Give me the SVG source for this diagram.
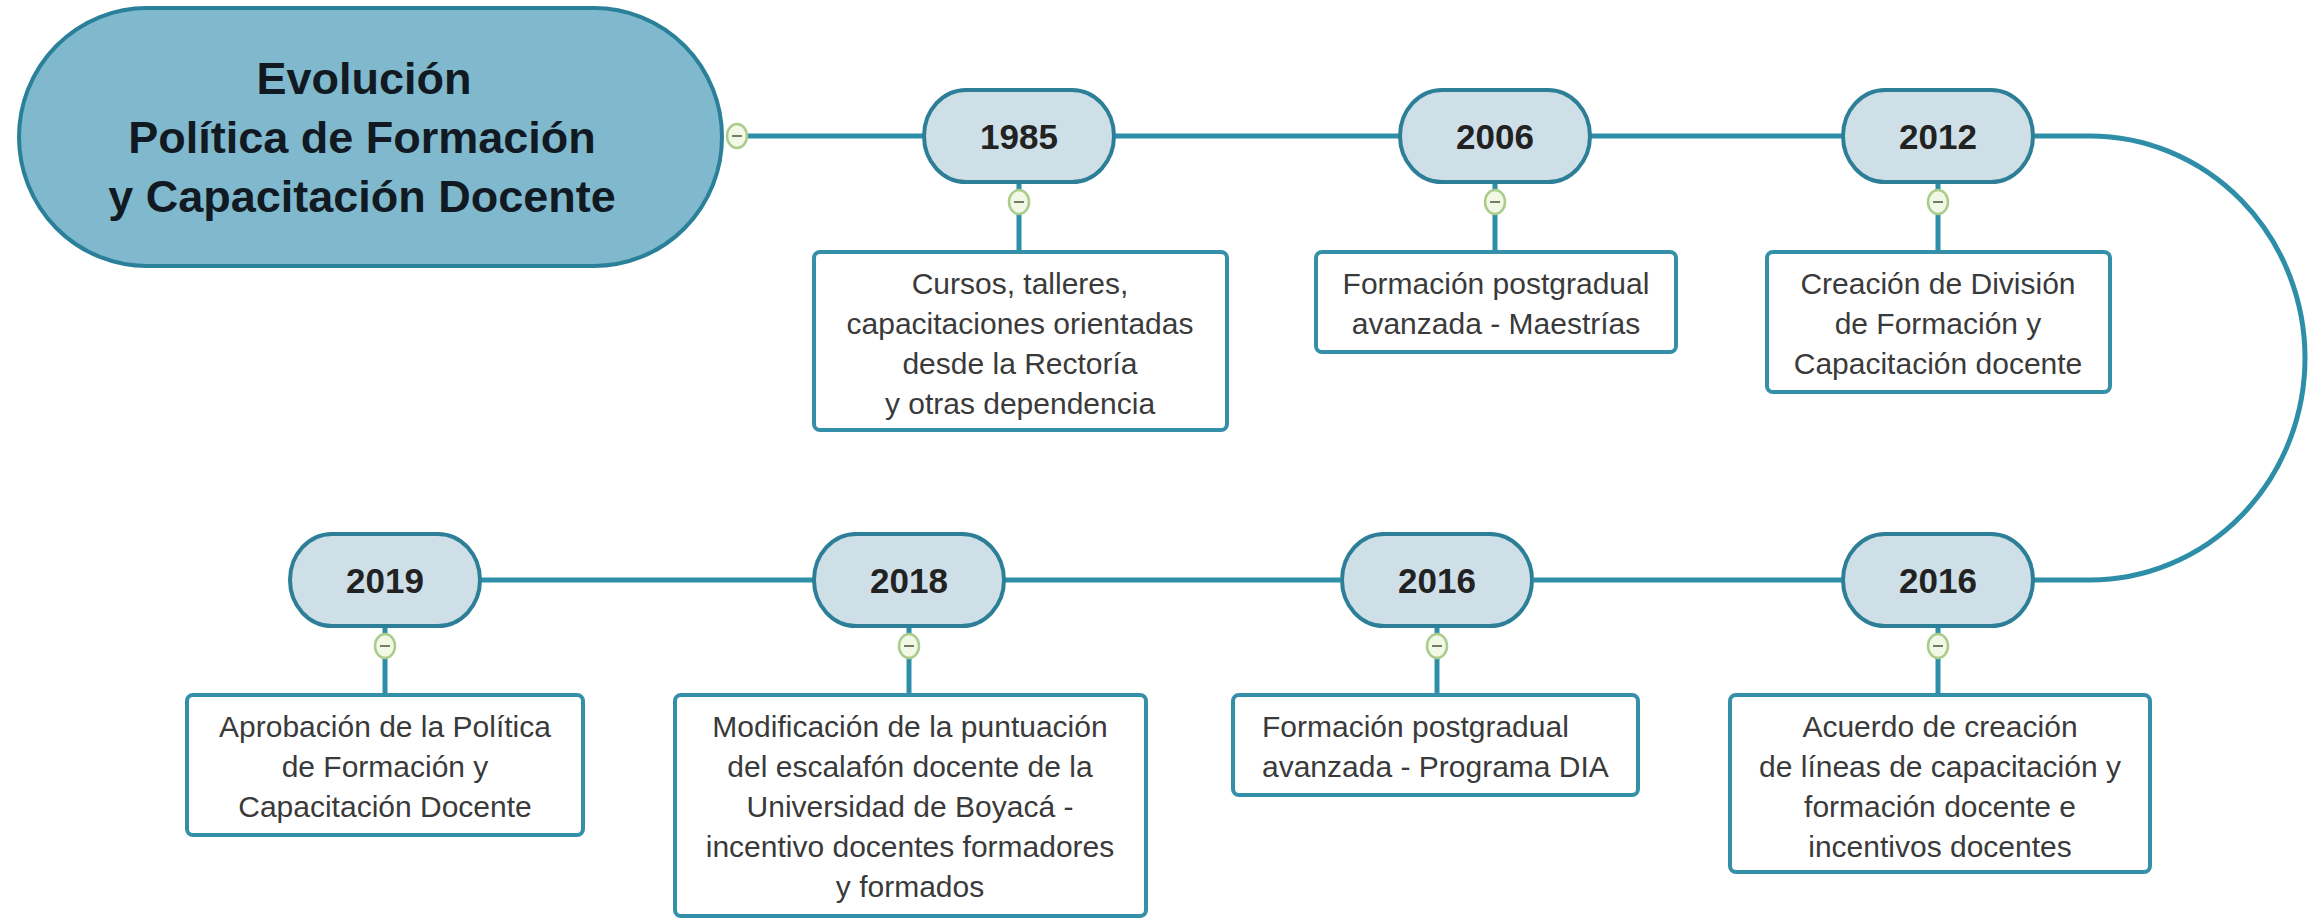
<svg xmlns="http://www.w3.org/2000/svg" width="2318" height="919" viewBox="0 0 2318 919">
<defs>
<style>
.main{fill:#80b9cd;stroke:#2a8099;stroke-width:4}
.pill{fill:#cfdfe8;stroke:#2c7f96;stroke-width:4}
.box{fill:#ffffff;stroke:#3390a8;stroke-width:4}
.shadow{fill:none;stroke:#c9d7dc;stroke-width:3}
.conn{fill:none;stroke:#2e8ea8;stroke-width:5}
.tog{fill:#f1f8e6;stroke:#a9cc8a;stroke-width:2.5}
.togbar{stroke:#6f7f60;stroke-width:2}
.title{font-family:"Liberation Sans",Arial,sans-serif;font-weight:bold;font-size:45px;fill:#111a22;text-anchor:middle}
.year{font-family:"Liberation Sans",Arial,sans-serif;font-weight:bold;font-size:35px;fill:#222;text-anchor:middle}
.txt{font-family:"Liberation Sans",Arial,sans-serif;font-size:30px;fill:#3a3a3a;text-anchor:middle}
.txtl{font-family:"Liberation Sans",Arial,sans-serif;font-size:30px;fill:#3a3a3a}
</style>
<g id="toggle">
<ellipse class="tog" cx="0" cy="0" rx="10" ry="12"/>
<line class="togbar" x1="-5" y1="0" x2="5" y2="0"/>
</g>
</defs>
<rect width="2318" height="919" fill="#ffffff"/>

<g id="connectors">
<line class="conn" x1="737" y1="136" x2="925" y2="136"/>
<line class="conn" x1="1113" y1="136" x2="1400" y2="136"/>
<line class="conn" x1="1590" y1="136" x2="1843" y2="136"/>
<path class="conn" d="M2033,136 H2090 A215,222 0 0 1 2090,580 H2033"/>
<line class="conn" x1="1534" y1="580" x2="1843" y2="580"/>
<line class="conn" x1="1002" y1="580" x2="1340" y2="580"/>
<line class="conn" x1="480" y1="580" x2="816" y2="580"/>
<line class="conn" x1="1019" y1="182" x2="1019" y2="252"/>
<line class="conn" x1="1495" y1="182" x2="1495" y2="252"/>
<line class="conn" x1="1938" y1="182" x2="1938" y2="252"/>
<line class="conn" x1="385" y1="626" x2="385" y2="695"/>
<line class="conn" x1="909" y1="626" x2="909" y2="695"/>
<line class="conn" x1="1437" y1="626" x2="1437" y2="695"/>
<line class="conn" x1="1938" y1="626" x2="1938" y2="695"/>
</g>

<g id="main">
<rect class="main" x="19" y="8" width="703" height="258" rx="128" ry="129"/>
<text class="title" x="364" y="94">Evolución</text>
<text class="title" x="362" y="153">Política de Formación</text>
<text class="title" x="362" y="212">y Capacitación Docente</text>
<use href="#toggle" x="737" y="136"/>
</g>

<g id="y1985">
<rect class="pill" x="924" y="90" width="190" height="92" rx="42" ry="46"/>
<text class="year" x="1019" y="149">1985</text>
<use href="#toggle" x="1019" y="202"/>
</g>
<g id="d1985">
<rect class="box" x="814" y="252" width="413" height="178" rx="6"/>
<text class="txt" x="1020" y="294">Cursos, talleres,</text>
<text class="txt" x="1020" y="334">capacitaciones orientadas</text>
<text class="txt" x="1020" y="374">desde la Rectoría</text>
<text class="txt" x="1020" y="414">y otras dependencia</text>
</g>

<g id="y2006">
<rect class="pill" x="1400" y="90" width="190" height="92" rx="42" ry="46"/>
<text class="year" x="1495" y="149">2006</text>
<use href="#toggle" x="1495" y="202"/>
</g>
<g id="d2006">
<rect class="box" x="1316" y="252" width="360" height="100" rx="6"/>
<text class="txt" x="1496" y="294">Formación postgradual</text>
<text class="txt" x="1496" y="334">avanzada - Maestrías</text>
</g>

<g id="y2012">
<rect class="pill" x="1843" y="90" width="190" height="92" rx="42" ry="46"/>
<text class="year" x="1938" y="149">2012</text>
<use href="#toggle" x="1938" y="202"/>
</g>
<g id="d2012">
<rect class="box" x="1767" y="252" width="343" height="140" rx="6"/>
<text class="txt" x="1938" y="294">Creación de División</text>
<text class="txt" x="1938" y="334">de Formación y</text>
<text class="txt" x="1938" y="374">Capacitación docente</text>
</g>

<g id="y2016b">
<rect class="pill" x="1843" y="534" width="190" height="92" rx="42" ry="46"/>
<text class="year" x="1938" y="593">2016</text>
<use href="#toggle" x="1938" y="646"/>
</g>
<g id="d2016b">
<rect class="box" x="1730" y="695" width="420" height="177" rx="6"/>
<text class="txt" x="1940" y="737">Acuerdo de creación</text>
<text class="txt" x="1940" y="777">de líneas de capacitación y</text>
<text class="txt" x="1940" y="817">formación docente e</text>
<text class="txt" x="1940" y="857">incentivos docentes</text>
</g>

<g id="y2016a">
<rect class="pill" x="1342" y="534" width="190" height="92" rx="42" ry="46"/>
<text class="year" x="1437" y="593">2016</text>
<use href="#toggle" x="1437" y="646"/>
</g>
<g id="d2016a">
<rect class="box" x="1233" y="695" width="405" height="100" rx="6"/>
<text class="txtl" x="1262" y="737">Formación postgradual</text>
<text class="txtl" x="1262" y="777">avanzada - Programa DIA</text>
</g>

<g id="y2018">
<rect class="pill" x="814" y="534" width="190" height="92" rx="42" ry="46"/>
<text class="year" x="909" y="593">2018</text>
<use href="#toggle" x="909" y="646"/>
</g>
<g id="d2018">
<rect class="box" x="675" y="695" width="471" height="221" rx="6"/>
<text class="txt" x="910" y="737">Modificación de la puntuación</text>
<text class="txt" x="910" y="777">del escalafón docente de la</text>
<text class="txt" x="910" y="817">Universidad de Boyacá -</text>
<text class="txt" x="910" y="857">incentivo docentes formadores</text>
<text class="txt" x="910" y="897">y formados</text>
</g>

<g id="y2019">
<rect class="pill" x="290" y="534" width="190" height="92" rx="42" ry="46"/>
<text class="year" x="385" y="593">2019</text>
<use href="#toggle" x="385" y="646"/>
</g>
<g id="d2019">
<rect class="box" x="187" y="695" width="396" height="140" rx="6"/>
<text class="txt" x="385" y="737">Aprobación de la Política</text>
<text class="txt" x="385" y="777">de Formación y</text>
<text class="txt" x="385" y="817">Capacitación Docente</text>
</g>
</svg>
